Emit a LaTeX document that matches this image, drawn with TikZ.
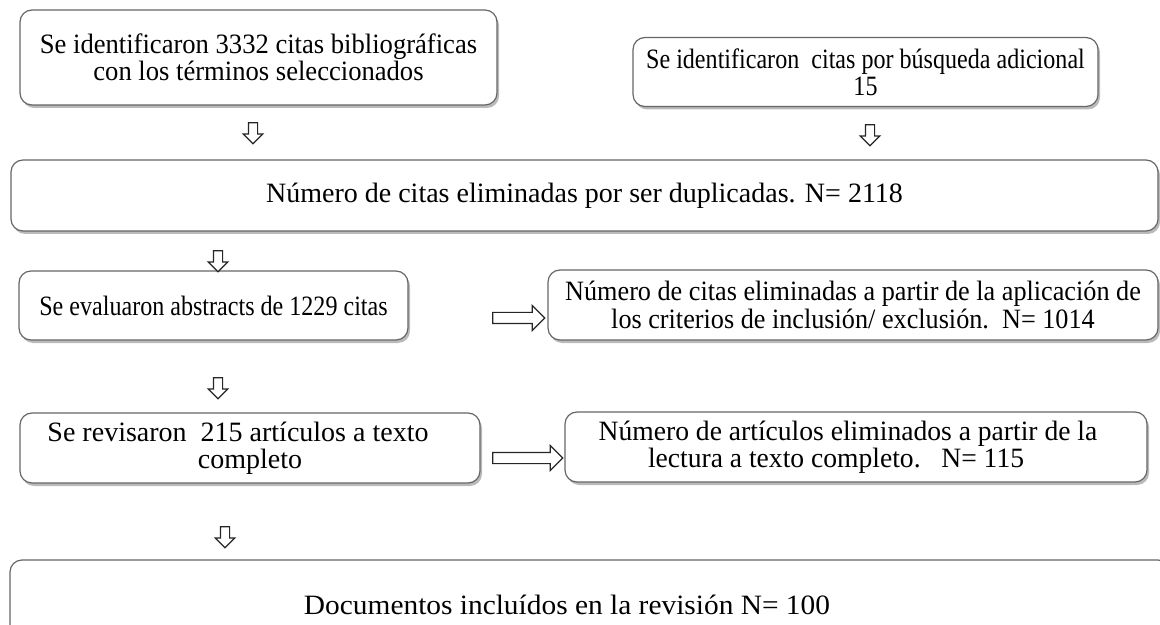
\documentclass[tikz,border=0pt]{standalone}
\usepackage{fontspec}
\setmainfont{Liberation Serif}
\newfontfamily\fsA{Liberation Serif}[FakeStretch=0.95]
\newfontfamily\fsB{Liberation Serif}[FakeStretch=0.86]
\newfontfamily\fsC{Liberation Serif}[FakeStretch=1.0]
\newfontfamily\fsD{Liberation Serif}[FakeStretch=0.936]
\newfontfamily\fsE{Liberation Serif}[FakeStretch=0.985]
\newfontfamily\fsF{Liberation Serif}[FakeStretch=1.05]
\usetikzlibrary{shapes.arrows,shadows}
\begin{document}
\begin{tikzpicture}[x=0.5pt,y=-0.5pt,
  box/.style={draw=black!60, line width=0.6pt, fill=white, rounded corners=6pt,
    drop shadow={shadow xshift=1pt, shadow yshift=-1.5pt, opacity=0.45, fill=black!60},
    align=center, font=#1\fontsize{14}{13.6}\selectfont, inner sep=0pt},
  darrow/.style={single arrow, draw=black!85, line width=0.6pt, fill=white,
    shape border rotate=270, inner sep=2pt, minimum height=10.5pt,
    single arrow head extend=2.6pt},
  rarrow/.style={single arrow, draw=black!85, line width=0.6pt, fill=white,
    inner sep=2.5pt, minimum height=#1, single arrow head extend=3.5pt},
]
\useasboundingbox (0,0) rectangle (1160,625);
\clip (0,0) rectangle (1160,625);
% boxes
\node[box=\fsA, minimum width=238.5pt, minimum height=47.5pt] (b1) at (258.5,57.5)
  {Se identificaron 3332 citas bibliográficas\\con los términos seleccionados};
\node[box=\fsB, minimum width=232.5pt, minimum height=34.5pt] (b2) at (865.5,72)
  {Se identificaron\ \ citas por búsqueda adicional\\15};
\node[box=\fsC, minimum width=573.5pt, minimum height=35.5pt] (b3) at (584.5,195.5)
  {Número de citas eliminadas por ser duplicadas. N= 2118};
\node[box=\fsB, minimum width=194.5pt, minimum height=34.5pt] (b4) at (213.5,305.5)
  {Se evaluaron abstracts de 1229 citas};
\node[box=\fsD, minimum width=305pt, minimum height=35pt] (b5) at (853,305)
  {Número de citas eliminadas a partir de la aplicación de\\los criterios de inclusión/ exclusión.\ \ N= 1014};
\node[box=\fsC, minimum width=230pt, minimum height=35pt] (b6) at (250,448)
  {Se revisaron\ \ 215 artículos a texto\hspace*{12pt}\\completo};
\node[box=\fsE, minimum width=291pt, minimum height=35pt] (b7) at (856,447)
  {Número de artículos eliminados a partir de la\hspace*{8pt}\\lectura a texto completo.\ \ \ N= 115\hspace*{20pt}};
\node[box=\fsF, minimum width=580pt, minimum height=45pt] (b8) at (590,605)
  {\hspace*{-23pt}Documentos incluídos en la revisión N= 100};
% arrows
\node[darrow] (a1) at (253,131) {};
\node[darrow] (a2) at (870,133) {};
\node[darrow] (a3) at (218,259) {};
\node[rarrow=26pt] (a4) at (516,318) {};
\node[darrow] (a5) at (218,386) {};
\node[rarrow=35pt] (a6) at (525,458) {};
\node[darrow] (a7) at (225,535) {};
\end{tikzpicture}
\end{document}
